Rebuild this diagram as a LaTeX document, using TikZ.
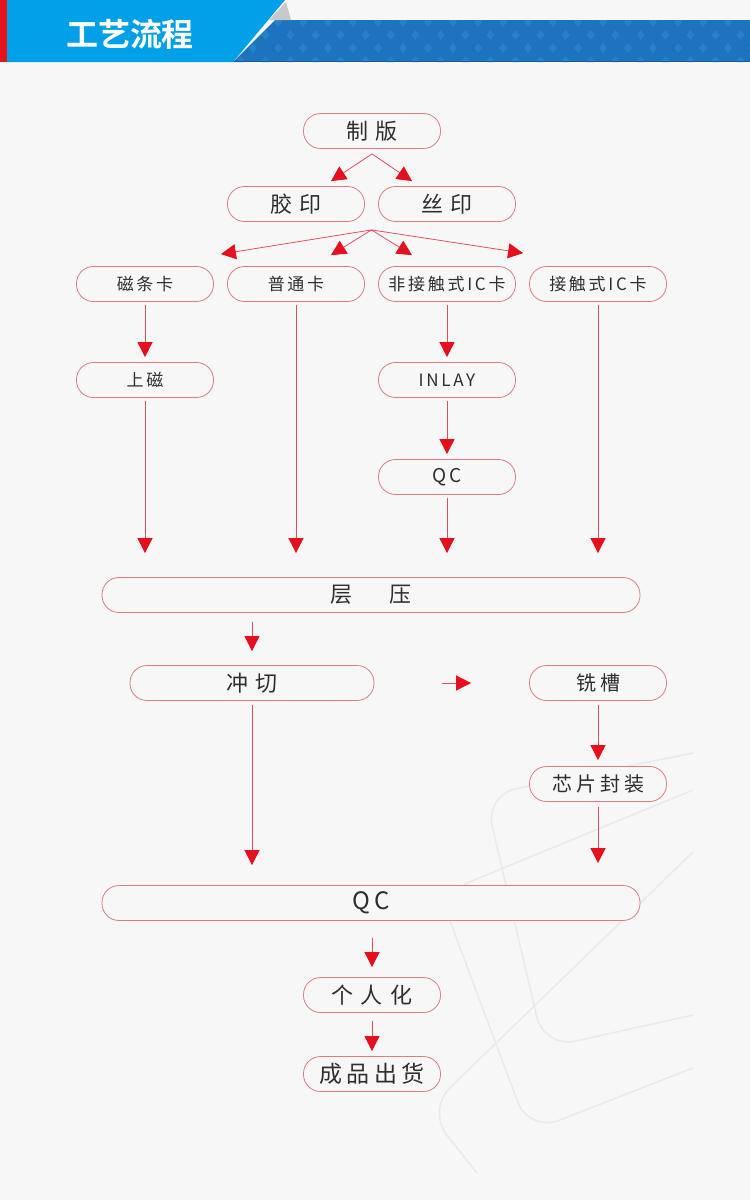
\documentclass[tikz,border=0pt]{standalone}
\usepackage{fontspec}
\setmainfont{Noto Sans CJK SC}
\newfontfamily\cardbig{Noto Sans CJK SC}[LetterSpace=36]
\newfontfamily\cardmid{Noto Sans CJK SC}[LetterSpace=20]
\newfontfamily\cardsmall{Noto Sans CJK SC}[LetterSpace=16]
\newfontfamily\headfont{Noto Sans CJK SC Bold}
\usetikzlibrary{arrows.meta,calc}

\definecolor{bgcol}{HTML}{F7F7F7}
\definecolor{boxred}{HTML}{DF7A80}
\definecolor{linered}{HTML}{E2505C}
\definecolor{tipred}{HTML}{E60F1E}
\definecolor{txtcol}{HTML}{2E2E2E}
\definecolor{skyblue}{HTML}{00A0E9}
\definecolor{bandblue}{HTML}{1D73BD}
\definecolor{dotblue}{HTML}{2581CA}
\definecolor{barred}{HTML}{E5141B}
\definecolor{foldgray}{HTML}{C8C8C8}
\definecolor{decogray}{HTML}{EAEAEA}

\newcommand{\bigtext}{\cardbig\fontsize{22}{26}\selectfont}
\newcommand{\midtext}{\cardmid\fontsize{20}{24}\selectfont}
\newcommand{\smalltext}{\cardsmall\fontsize{17}{20}\selectfont}

\begin{document}
\begin{tikzpicture}[
	x=1pt,y=-1pt,
	card/.style={draw=boxred,line width=0.8pt,fill=bgcol,rounded corners=17pt,
		minimum width=137pt,minimum height=35pt,inner sep=0pt,text=txtcol},
	widecard/.style={card,minimum width=538pt},
	bigtxt/.style={font=\bigtext},
	midtxt/.style={font=\midtext},
	smalltxt/.style={font=\smalltext},
	flow/.style={draw=linered,line width=0.8pt,
		-{Triangle[length=15pt,width=15pt,color=tipred]}},
	deco/.style={draw=decogray,line width=1.5pt,rounded corners=32pt}
	]
	\useasboundingbox (0,0) rectangle (750,1200);
	\fill[bgcol] (0,0) rectangle (750,1200);
	
	% header band
	\begin{scope}
		\clip (275,20) -- (750,20) -- (750,62) -- (233,62) -- cycle;
		\fill[bandblue] (233,20) rectangle (750,62);
		\foreach \r in {0,...,3}{
			\foreach \c in {0,...,21}{
				\pgfmathsetmacro{\px}{228+25*\c+12.5*mod(\r,2)}
				\pgfmathsetmacro{\py}{22+13*\r}
				\fill[dotblue] (\px,\py-5) -- (\px+4,\py) -- (\px,\py+5) -- (\px-4,\py) -- cycle;
			}
		}
	\end{scope}
	\draw[bandblue!80!black,line width=1pt] (233,61.5) -- (750,61.5);
	\fill[skyblue] (7,0) -- (285,0) -- (233,62) -- (7,62) -- cycle;
	\fill[barred] (0,0) rectangle (7,62);
	\fill[foldgray] (269,20) -- (286,2) -- (291,20) -- cycle;
	\node[font=\headfont\fontsize{32}{36}\selectfont,text=white] (title) at (130,34) {工艺流程};
	
	% background lines
	\draw[deco] (693,753) -- (485,795) -- (544,1048) -- (693,1015);
	\draw[deco] (693,790) -- (440,894) -- (529,1132) -- (693,1068);
	\draw[deco] (693,852) -- (427,1110) -- (477,1173);
	
	% nodes
	\node[card,bigtxt] (zhiban) at (372,131) {制版};
	\node[card,bigtxt] (jiaoyin) at (296,204) {胶印};
	\node[card,bigtxt] (siyin) at (447,204) {丝印};
	\node[card,smalltxt] (cika) at (145,284) {磁条卡};
	\node[card,smalltxt] (putong) at (296,284) {普通卡};
	\node[card,smalltxt] (feijie) at (447,284) {非接触式IC卡};
	\node[card,smalltxt] (jiechu) at (598,284) {接触式IC卡};
	\node[card,smalltxt] (shangci) at (145,380) {上磁};
	\node[card,smalltxt] (inlay) at (447,380) {INLAY};
	\node[card,font=\cardsmall\fontsize{19}{22}\selectfont] (qcone) at (447,477) {QC};
	\node[widecard,bigtxt] (cengya) at (371,595) {层　压};
	\node[card,bigtxt,minimum width=244pt] (chongqie) at (252,683) {冲切};
	\node[card,midtxt] (xicao) at (598,683) {铣槽};
	\node[card,midtxt] (xinpian) at (598,784) {芯片封装};
	\node[widecard,font=\cardsmall\fontsize{24}{26}\selectfont] (qctwo) at (371,903) {QC};
	\node[card,bigtxt] (geren) at (372,995) {个人化};
	\node[card,font=\cardmid\fontsize{23}{26}\selectfont] (chengpin) at (372,1074) {成品出货};
	
	% forks
	\coordinate (forkA) at ($(zhiban.south)+(0,5)$);
	\draw[flow] (forkA) -- ($(jiaoyin.north)+(35,-5)$);
	\draw[flow] (forkA) -- ($(siyin.north)+(-35,-5)$);
	\coordinate (forkB) at ($(jiaoyin.south)!0.5!(siyin.south)+(0,8)$);
	\draw[flow] (forkB) -- ($(cika.north east)+(7,-12)$);
	\draw[flow] (forkB) -- ($(putong.north)+(35,-11)$);
	\draw[flow] (forkB) -- ($(feijie.north)+(-35,-11)$);
	\draw[flow] (forkB) -- ($(jiechu.north west)+(-6,-13)$);
	
	% columns
	\draw[flow,shorten <=3pt,shorten >=5pt] (cika) -- (shangci);
	\draw[flow,shorten <=3pt,shorten >=5pt] (feijie) -- (inlay);
	\draw[flow,shorten <=3pt,shorten >=5pt] (inlay) -- (qcone);
	\draw[flow,shorten <=3pt,shorten >=24pt] (shangci) -- (shangci |- cengya.north);
	\draw[flow,shorten <=3pt,shorten >=24pt] (putong) -- (putong |- cengya.north);
	\draw[flow,shorten <=3pt,shorten >=24pt] (qcone) -- (qcone |- cengya.north);
	\draw[flow,shorten <=3pt,shorten >=24pt] (jiechu) -- (jiechu |- cengya.north);
	
	% lower part
	\draw[flow,shorten <=9pt,shorten >=14pt] (cengya.south -| chongqie) -- (chongqie.north);
	\draw[flow,shorten <=68pt,shorten >=58pt] (chongqie.east) -- (xicao.west);
	\draw[flow,shorten <=4pt,shorten >=6pt] (xicao) -- (xinpian);
	\draw[flow,shorten <=5pt,shorten >=22pt] (xinpian) -- (xinpian |- qctwo.north);
	\draw[flow,shorten <=4pt,shorten >=20pt] (chongqie) -- (chongqie |- qctwo.north);
	\draw[flow,shorten <=17pt,shorten >=10pt] (qctwo.south -| geren) -- (geren.north);
	\draw[flow,shorten <=8pt,shorten >=5pt] (geren) -- (chengpin);
\end{tikzpicture}
\end{document}
